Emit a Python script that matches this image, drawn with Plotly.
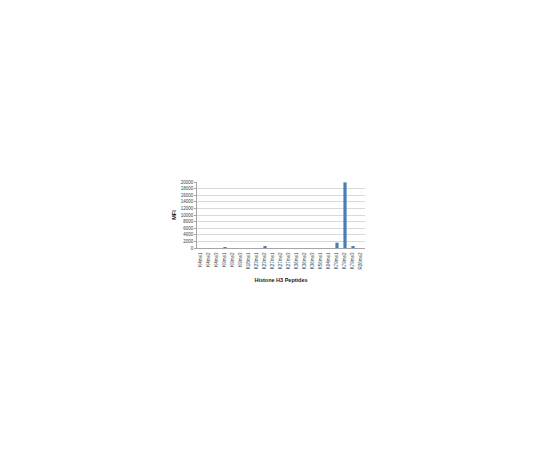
import plotly.graph_objects as go

# histone H3 peptide array, MFI per peptide
peptides = ["K4me1", "K4me2", "K4me3", "K9me1", "K9me2", "K9me3", "K18me1",
            "K23me1", "K23me2", "K27me1", "K27me2", "K27me3", "K36me1", "K36me2",
            "K36me3", "K56me1", "K64me1", "K79me1", "K79me2", "K79me3", "R26me2"]
mfi = [0, 0, 0, 300, 0, 0, 0, 0, 500, 0, 0, 0, 0, 0,
       0, 0, 0, 1600, 19900, 500, 0]

y_ticks = [0, 2000, 4000, 6000, 8000, 10000, 12000, 14000, 16000, 18000, 20000]

fig = go.Figure(go.Bar(x=peptides, y=mfi, marker_color="#4a7ebb", marker_line_width=0))

# page body has an 8px default margin, so offsets are taken off here
fig.update_layout(
    width=540, height=450, autosize=False,
    margin=dict(l=189, r=183, t=174, b=210),
    plot_bgcolor="white", paper_bgcolor="white",
    bargap=0.6, showlegend=False,
    font=dict(family="Liberation Sans", size=5, color="#404040"),
)
fig.update_xaxes(
    tickangle=-90, tickfont=dict(size=4.5),
    showline=True, linecolor="#a6a6a6", linewidth=0.6,
    ticks="outside", ticklen=2, tickcolor="white", showgrid=False,
    title=dict(text="<b>Histone H3 Peptides</b>", font=dict(size=5.5, color="#222"), standoff=9),
)
fig.update_yaxes(
    range=[0, 20000], tickvals=y_ticks, tickformat="d", tickfont=dict(size=4.5),
    showline=True, linecolor="#a6a6a6", linewidth=0.6,
    showgrid=True, gridcolor="#d9d9d9", gridwidth=0.6, zeroline=False,
    ticks="outside", ticklen=2, tickcolor="#a6a6a6",
    title=dict(text="<b>MFI</b>", font=dict(size=5.5, color="#222"), standoff=3),
)

fig.write_html("out.html")
